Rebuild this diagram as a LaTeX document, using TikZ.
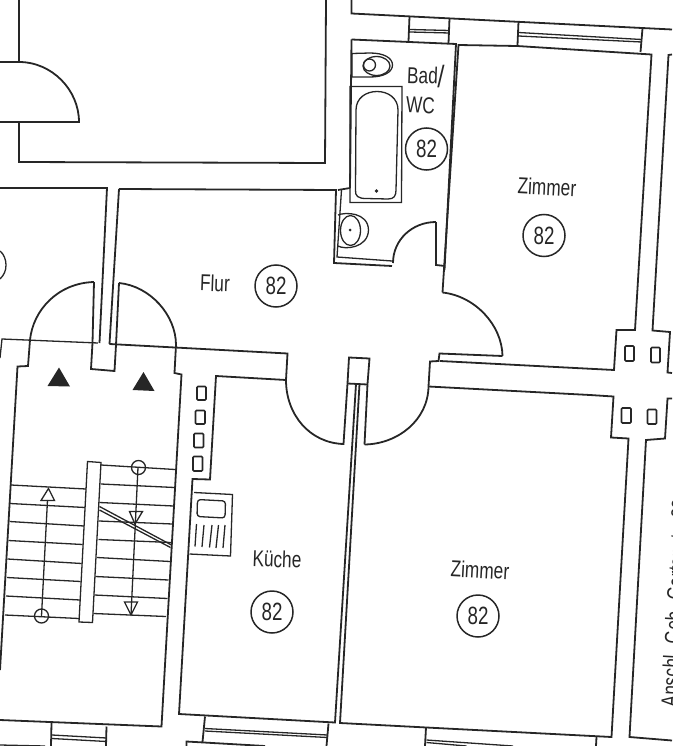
\documentclass[tikz,border=0pt]{standalone}
\usepackage{fontspec}
\setmainfont[FakeStretch=0.75]{Liberation Sans}
\definecolor{planink}{HTML}{262626}
\tikzset{
	wall/.style={draw=planink,line width=1.8pt,line join=miter},
	thin/.style={draw=planink,line width=1.3pt},
	roomlabel/.style={text=planink,font=\fontsize{23}{23}\selectfont,inner sep=0pt},
	roomnumber/.style={draw=planink,line width=1.5pt,circle,minimum size=42pt,inner sep=0pt,text=planink,font=\fontsize{25}{25}\selectfont},
	flue/.style={draw=planink,line width=1.6pt,rounded corners=1pt}
}
\begin{document}
\begin{tikzpicture}[x=1pt,y=-1pt]
		\useasboundingbox (0,0) rectangle (672,746);
		% room top left
		\draw[wall] (19,0) -- (19,62);
		\draw[wall] (0,62) -- (19,62) .. controls (52,62) and (79,90) .. (79,122) -- (0,122);
		\draw[wall] (19,122) -- (19,162) -- (325,163) -- (326,0);
		\draw[wall] (0,188) -- (107,188) -- (99.5,343);
		\draw[thin] (0,251) .. controls (4,254) and (6,260) .. (6,265) .. controls (6,271) and (4,275) .. (0,279);
		% flur, left doors
		\draw[wall] (119,189) -- (336,190) -- (334,263) -- (392,266);
		\draw[wall] (119,189) -- (109.5,344);
		\draw[wall] (338,190) -- (350,188);
		\draw[wall] (94,282) -- (92.5,343) -- (91,369) -- (114.5,371) -- (116,345) -- (119,283);
		\draw[wall] (94,282) .. controls (58,283) and (33,310) .. (30,340) -- (28,366) -- (17.5,366.5) -- (0,670);
		\draw[wall] (119,283) .. controls (150,286) and (176,315) .. (176,345) -- (174.5,373) -- (181.5,374.5) -- (161.5,726.5) -- (0,720);
		\draw[thin] (0,358) -- (2,339) -- (98,343);
		\draw[wall] (109.5,344) -- (287.5,353.5) -- (286,380);
		% kitchen
		\draw[wall] (286,380) -- (216,376) -- (210,479.5) -- (192.5,479) -- (179,714) -- (335,722.5) -- (356,384);
		\draw[wall] (359.5,384) -- (340,723) -- (426.5,727.5) -- (611.5,737) -- (628.5,438.5) -- (611,437.5) -- (613.5,396.5) -- (590,395) -- (428.5,386.5);
		% doors in the middle
		\draw[wall] (286,380) .. controls (286,415) and (310,443) .. (343.5,444) -- (347.5,383.5) -- (349,357.5) -- (369.5,358.5) -- (367.5,384) -- (364.5,444.5);
		\draw[wall] (347.5,383.5) -- (367.5,384.5);
		\draw[wall] (364.5,444.5) .. controls (398,444) and (428,420) .. (428.5,386.5) -- (430,361.5) -- (438.5,361) -- (439.5,353.5) -- (502.5,356);
		\draw[wall] (442.5,292.5) .. controls (475,296) and (502,325) .. (502.5,356);
		\draw[wall] (440,361) -- (614,370) -- (616.5,330) -- (635,330) -- (651.5,54.5) -- (517,46) -- (458.5,45) -- (442.5,292.5);
		% bath
		\draw[wall] (351.5,0) -- (351.5,13.5) -- (672,29.5);
		\draw[wall] (351.5,39.5) -- (456,44) -- (444.5,270);
		\draw[wall] (351.5,39.5) -- (350,188);
		\draw[wall] (436,222) -- (436,265) -- (445,266);
		\draw[wall] (436,222) .. controls (412,222) and (393,240) .. (393,263);
		\draw[thin] (341.5,190) -- (337,257) -- (392,261);
		\draw[thin] (350,86.5) -- (402,86.5) -- (401.5,202.5) -- (350,202.5) -- cycle;
		\draw[thin] (356,110) .. controls (356,98) and (366,91.5) .. (377,91.5) .. controls (388,91.5) and (398,98) .. (398,110) -- (396,190) .. controls (396,196) and (394,199) .. (388,199) -- (366,198.5) .. controls (358,198.5) and (355,196) .. (355.5,190) -- cycle;
		\fill[planink] (376.5,191) circle (1.8);
		\draw[thin] (352,53.5) -- (370,53) .. controls (384,53) and (392.5,58) .. (392.5,65) .. controls (392.5,72) and (384,77) .. (370,77) -- (352,77) -- cycle;
		\draw[thin] (376.5,66) ellipse (13.5 and 9.5);
		\draw[thin] (369.5,65) circle (6);
		\draw[thin] (338,215) .. controls (345,212) and (368,212) .. (368.5,230) .. controls (368,248) and (345,250) .. (338,246);
		\draw[thin] (350.5,230.5) ellipse (10 and 15);
		\fill[planink] (350,230) circle (1.5);
		% windows at the top
		\draw[wall] (409.5,16.5) -- (408.5,41.5);
		\draw[wall] (449.5,18.5) -- (448.5,43.5);
		\draw[thin] (410,29.5) -- (449.5,30.5);
		\draw[thin] (410,32) -- (449.5,33);
		\draw[wall] (518.5,21.5) -- (517.5,45);
		\draw[wall] (642.5,28.5) -- (640.5,52);
		\draw[thin] (518.5,32.5) -- (641.5,39.5);
		\draw[thin] (518.5,36) -- (641.5,42);
		% duct on the right
		\draw[wall] (672,54.5) -- (668.5,55) -- (652.5,330.5) -- (670,332) -- (667.5,372.5) -- (672,373);
		\draw[wall] (672,398.5) -- (667.5,398.5) -- (665,438.5) -- (646,440) -- (629.5,737) -- (672,740.5);
		\draw[flue] (625,346) rectangle (634,361);
		\draw[flue] (651,347.5) rectangle (660,362.5);
		\draw[flue] (621.5,408) rectangle (631,423);
		\draw[flue] (647.5,409.5) rectangle (656.5,424);
		% kitchen flues, stove
		\draw[flue] (197,386.5) rectangle (206,400);
		\draw[flue] (195.5,410.5) rectangle (205,424);
		\draw[flue] (194,433.5) rectangle (203.5,447.5);
		\draw[flue] (193,456.5) rectangle (202.5,471);
		\draw[thin] (194,492.5) -- (232.5,494.5) -- (230.5,556) -- (189.5,554);
		\draw[thin,rounded corners=3pt] (197.5,499.5) -- (225.5,501) -- (225,518) -- (197,516.5) -- cycle;
		\draw[thin] (196.5,524) -- (195,546.5);
		\draw[thin] (204,525) -- (202,547);
		\draw[thin] (212,525) -- (209.5,547.5);
		\draw[thin] (218.5,525) -- (216,548);
		\draw[thin] (225,525) -- (223,548);
		% stairs
		\fill[planink] (59,367.5) -- (47.5,386) -- (70,386.5) -- cycle;
		\fill[planink] (143.5,372) -- (132.5,390) -- (154.5,391) -- cycle;
		\draw[thin] (87.5,461.5) -- (101,462.5) -- (92.5,622.5) -- (79,622) -- cycle;
		\draw[thin] (101,465) -- (175,469.5);
		\draw[thin] (101,484) -- (174.5,487.5);
		\draw[thin] (99.5,502.5) -- (173.5,506);
		\draw[thin] (99,521) -- (172.5,524);
		\draw[thin] (98.5,539.5) -- (171,542.5);
		\draw[thin] (97,557.5) -- (170,561.5);
		\draw[thin] (95.5,576.5) -- (168.5,580);
		\draw[thin] (94.5,595) -- (167.5,598.5);
		\draw[thin] (93.5,613.5) -- (166,616.5);
		\draw[thin] (11,485) -- (86,489);
		\draw[thin] (10,503.5) -- (85,507.5);
		\draw[thin] (9.5,521.5) -- (84,526);
		\draw[thin] (8.5,540.5) -- (82.5,544.5);
		\draw[thin] (7.5,559) -- (81.5,563.5);
		\draw[thin] (7,577.5) -- (80.5,581.5);
		\draw[thin] (6,596) -- (80,600);
		\draw[thin] (5,615) -- (79,618.5);
		\draw[thin] (99.5,506.5) -- (171.5,545);
		\draw[thin] (99.5,510) -- (170.5,547.5);
		\draw[thin] (41.5,616) circle (7);
		\draw[thin] (41.5,616) -- (47.5,500);
		\draw[thin] (48.5,488.5) -- (41,500.5) -- (54.5,500.5) -- cycle;
		\draw[thin] (138.5,467.5) circle (7);
		\draw[thin] (138,467.5) -- (131,615);
		\draw[thin] (129.5,511.5) -- (142.5,511.5) -- (135,524) -- cycle;
		\draw[thin] (124.5,602) -- (137.5,602) -- (131,615) -- cycle;
		% windows at the bottom
		\draw[wall] (51.5,723) -- (51,746);
		\draw[wall] (106.5,726.5) -- (106,746);
		\draw[thin] (52,735) -- (106.5,738);
		\draw[thin] (52,738.5) -- (106.5,741.5);
		\draw[thin] (0,745) -- (45,746);
		\draw[wall] (205,716.5) -- (202.5,742);
		\draw[wall] (328.5,723.5) -- (326.5,746);
		\draw[thin] (205,728.5) -- (327.5,735);
		\draw[thin] (205,731) -- (327.5,737.5);
		\draw[wall] (186.5,746) -- (186.5,741.5) -- (265,746);
		\draw[wall] (426,727.5) -- (425,746);
		\draw[wall] (596.5,737) -- (596,746);
		\draw[thin] (426.5,740) -- (513,746);
		\draw[thin] (426.5,742.5) -- (466.5,746);
		% labels
		\node[roomlabel,rotate=-2,anchor=west] (lblbad) at (407,75) {Bad\raisebox{-3pt}{\scalebox{1.35}{/}}};
		\node[roomlabel,rotate=-2,anchor=west] (lblwc) at (406,105) {WC};
		\node[roomnumber] (numbad) at (426.5,149) {82};
		\node[roomlabel,rotate=-3] (lblzimmerup) at (547,187) {Zimmer};
		\node[roomnumber] (numzimmerup) at (544,235.5) {82};
		\node[roomlabel,rotate=-2] (lblflur) at (215,283) {Flur};
		\node[roomnumber] (numflur) at (276,286) {82};
		\node[roomlabel,rotate=-2] (lblkueche) at (277,559) {Küche};
		\node[roomnumber] (numkueche) at (272,612) {82};
		\node[roomlabel,rotate=-3] (lblzimmerlow) at (480,570) {Zimmer};
		\node[roomnumber] (numzimmerlow) at (478,616) {82};
		\node[roomlabel,rotate=87,anchor=west] (lblanschl) at (669,707) {Anschl. Geb. Gartenstr. 88};
		\end{tikzpicture}
\end{document}
